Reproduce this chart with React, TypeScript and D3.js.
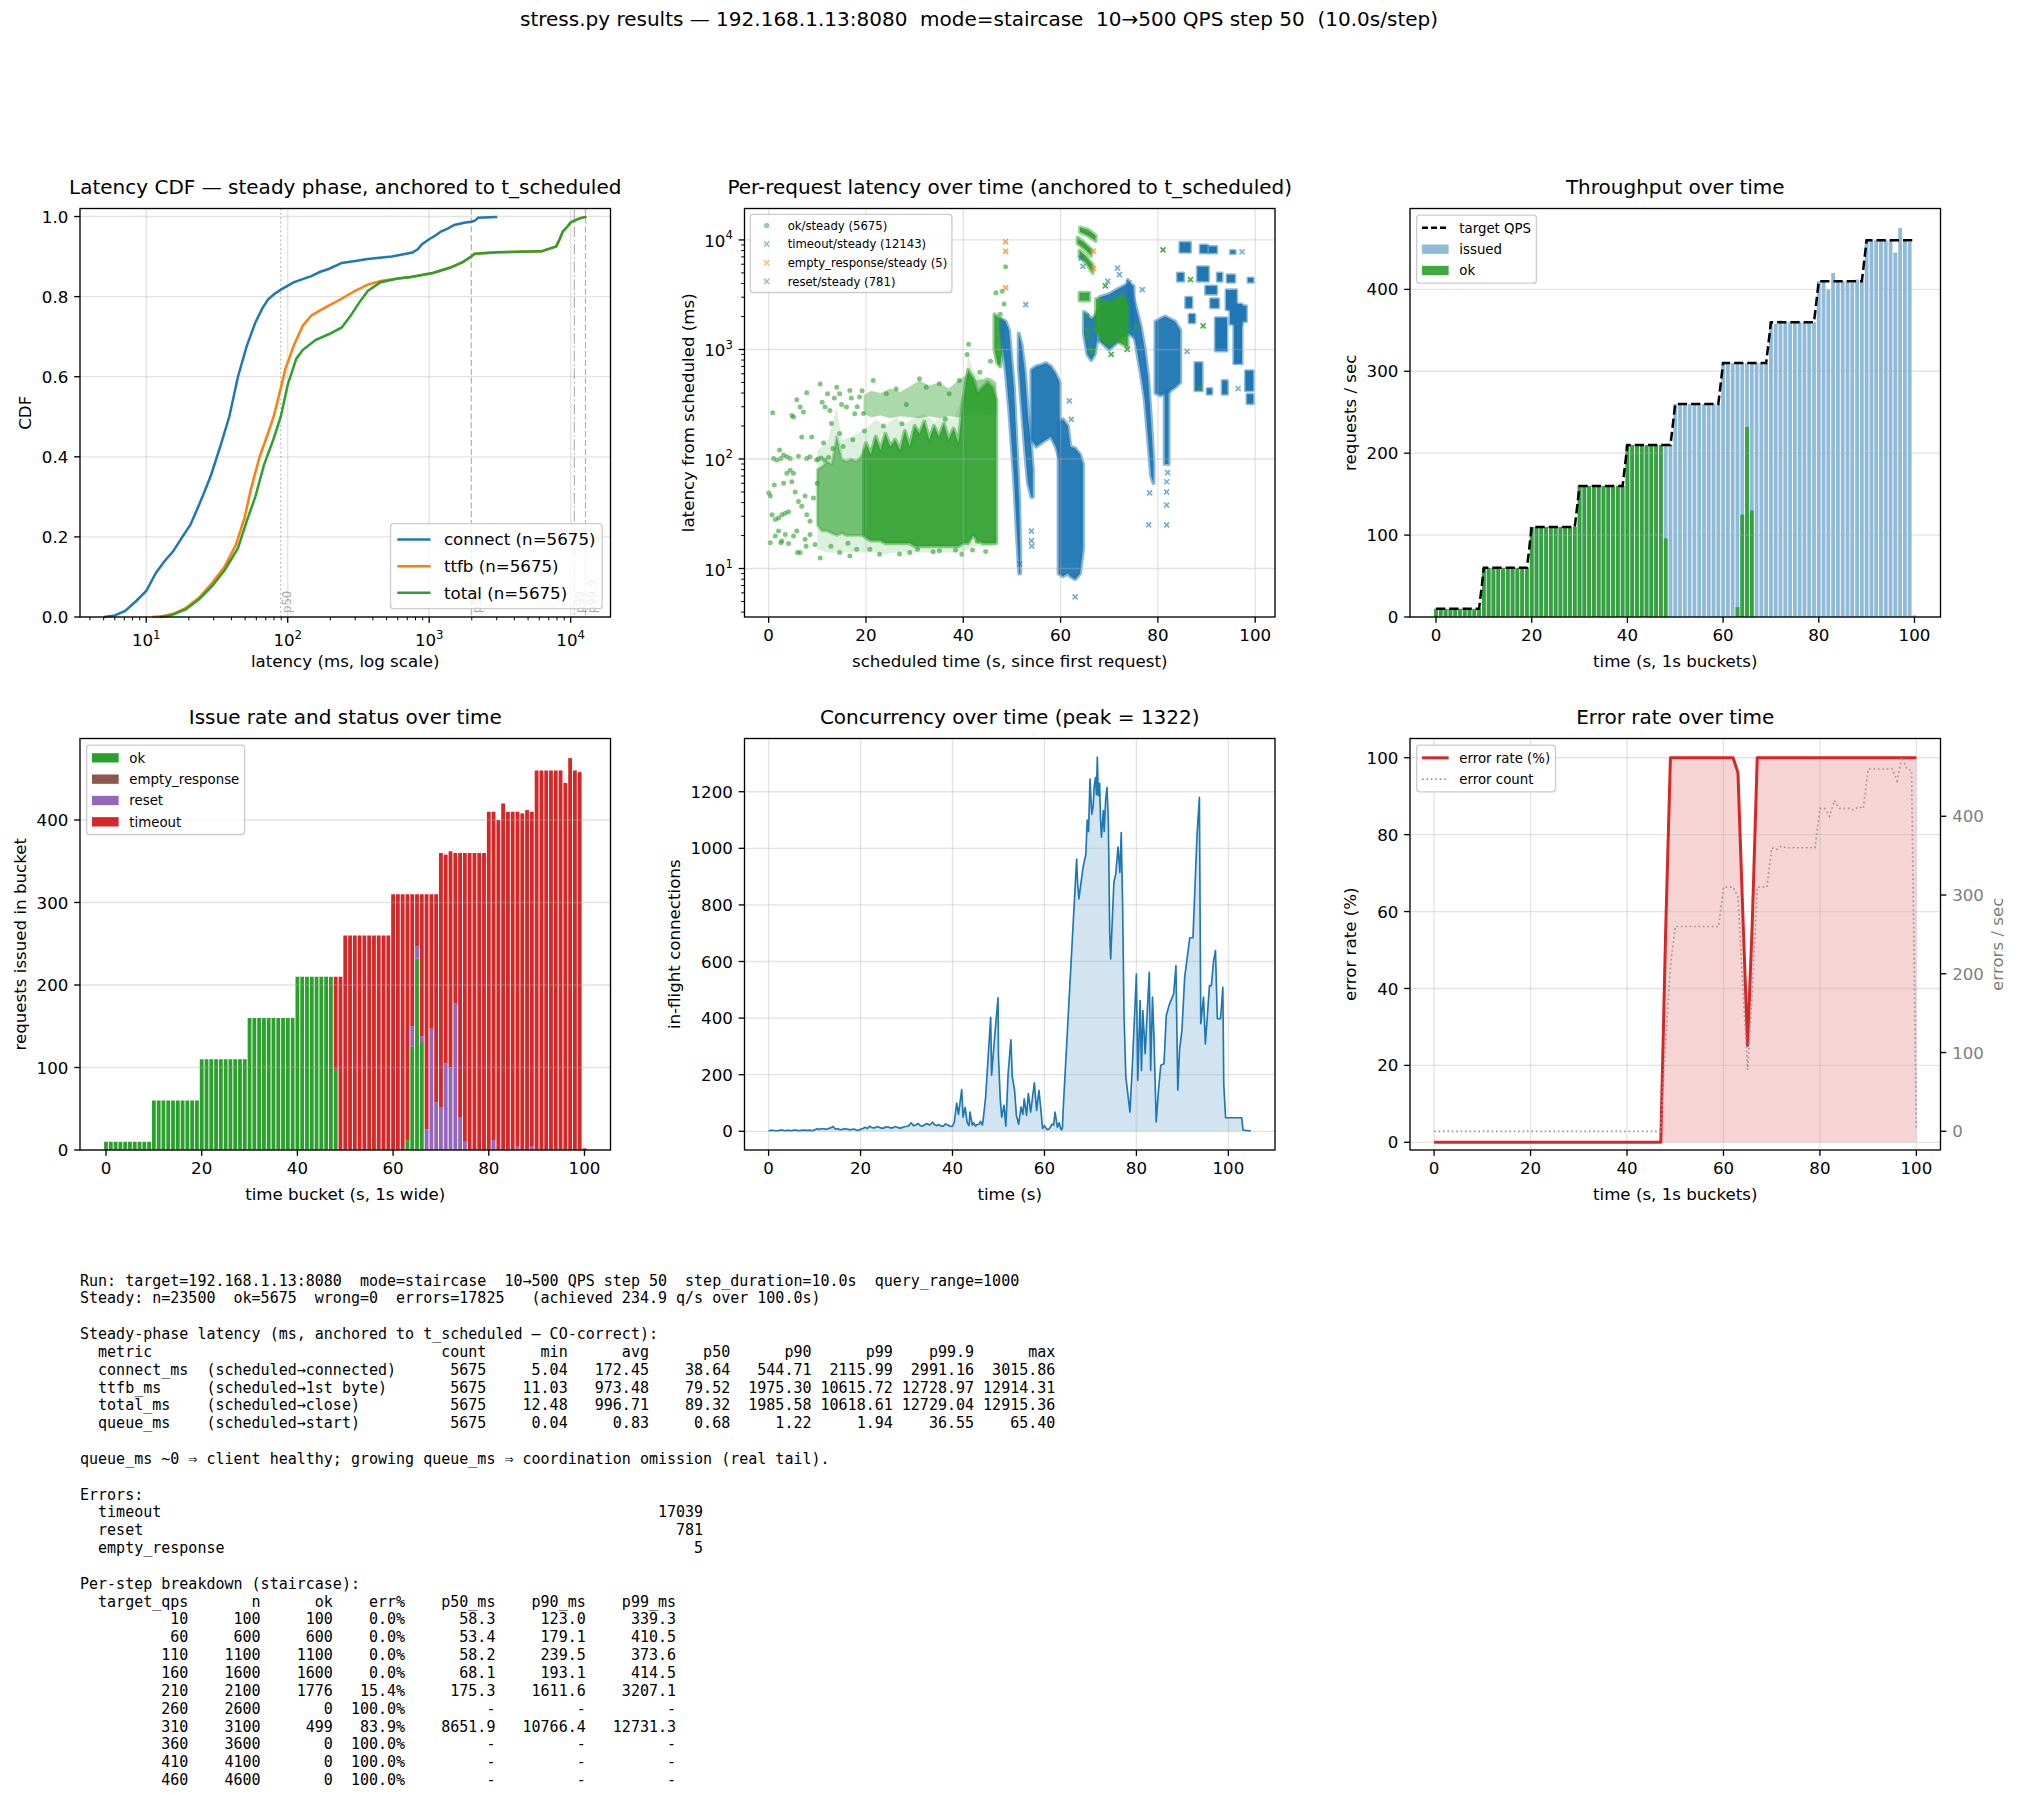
import React from 'react';
import * as d3 from 'd3';

const W = 2019;
const H = 1797;
const FONT = "'DejaVu Sans', Verdana, sans-serif";
const MONO = "'DejaVu Sans Mono', monospace";
const FS = 16.67;
const TL = 5.83;
const C0 = '#1f77b4', C1 = '#ff7f0e', C2 = '#2ca02c', C3 = '#d62728', C4 = '#9467bd', C5 = '#8c564b';

const SUPTITLE = 'stress.py results — 192.168.1.13:8080  mode=staircase  10→500 QPS step 50  (10.0s/step)';

// ---- latency CDFs (ms, cumulative fraction) ----
const cdfConnect: [number, number][] = [
  [5.04, 0], [6, 0.004], [7.1, 0.015], [8.5, 0.04], [10, 0.065], [11.7, 0.11], [13.5, 0.14], [15.5, 0.164],
  [18, 0.2], [20.5, 0.23], [23, 0.27], [25.3, 0.305], [28.7, 0.354], [33.6, 0.429], [38.64, 0.5], [44.5, 0.6],
  [51.2, 0.675], [59, 0.735], [66, 0.77], [72.8, 0.793], [80, 0.806], [90, 0.818], [111, 0.836], [147, 0.851],
  [170, 0.862], [195, 0.869], [241, 0.884], [300, 0.889], [368, 0.894], [544.71, 0.9], [646, 0.905], [760, 0.91],
  [830, 0.918], [887, 0.93], [986, 0.942], [1100, 0.952], [1219, 0.963], [1350, 0.97], [1504, 0.979], [1800, 0.985],
  [1995, 0.987], [2115.99, 0.99], [2215, 0.997], [2991, 0.999], [3015.86, 1],
];
const cdfTtfb: [number, number][] = [
  [11.03, 0], [13, 0.002], [15.5, 0.008], [19.1, 0.023], [23.6, 0.048], [29.2, 0.085], [36, 0.127], [43, 0.18],
  [49.5, 0.247], [55, 0.32], [63.3, 0.4], [72.8, 0.46], [79.52, 0.5], [87, 0.555], [96.4, 0.62], [111, 0.68],
  [128, 0.728], [147, 0.753], [182, 0.772], [225, 0.789], [298, 0.814], [368, 0.83], [454, 0.839], [600, 0.845],
  [743, 0.849], [1060, 0.859], [1398, 0.872], [1727, 0.886], [1975.3, 0.9], [2100, 0.907], [3040, 0.911],
  [6200, 0.913], [7900, 0.925], [8400, 0.945], [8800, 0.963], [9500, 0.975], [10000, 0.985], [10615.72, 0.99],
  [11700, 0.996], [12728.97, 0.999], [12914.31, 1],
];
const cdfTotal: [number, number][] = [
  [12.48, 0], [15, 0.004], [19, 0.019], [23.6, 0.044], [29.2, 0.077], [36, 0.118], [44.5, 0.172], [51.2, 0.238],
  [59, 0.3], [68, 0.38], [78.6, 0.44], [89.32, 0.5], [100, 0.58], [115, 0.645], [128, 0.667], [158, 0.692],
  [195, 0.706], [241, 0.723], [278, 0.752], [320, 0.785], [368, 0.814], [454, 0.836], [600, 0.845], [743, 0.849],
  [1060, 0.859], [1398, 0.872], [1727, 0.886], [1985.58, 0.9], [2100, 0.907], [3040, 0.911], [6200, 0.913],
  [7900, 0.925], [8400, 0.945], [8800, 0.963], [9500, 0.975], [10000, 0.985], [10618.61, 0.99], [11700, 0.996],
  [12729.04, 0.999], [12915.36, 1],
];
const pctNames = ['p50', 'p90', 'p99', 'p99.9'];
const pctTotalMs = [89.32, 1985.58, 10618.61, 12729.04];
const pctDash = ['1.67 2.75', '6.2 2.7', '10.7 2.7 1.67 2.7', '6.2 2.7'];

// ---- staircase schedule + per-second buckets ----
const stepStart = [0, 10, 20, 30, 40, 50, 60, 70, 80, 90];
const stepQps = [10, 60, 110, 160, 210, 260, 310, 360, 410, 460];

const issuedPerSec = [
  10, 10, 10, 10, 10, 10, 10, 10, 10, 10,
  60, 60, 60, 60, 60, 60, 60, 60, 60, 60,
  110, 110, 110, 110, 110, 110, 110, 110, 110, 110,
  160, 160, 160, 160, 160, 160, 160, 160, 160, 160,
  210, 210, 210, 210, 210, 210, 210, 210, 210, 210,
  260, 260, 260, 260, 260, 260, 260, 260, 260, 260,
  310, 310, 310, 310, 310, 310, 310, 310, 310, 310,
  360, 358, 362, 360, 360, 360, 360, 360, 360, 360,
  410, 410, 400, 420, 410, 410, 410, 408, 412, 410,
  460, 460, 460, 460, 460, 460, 445, 475, 460, 458,
  2,
];
const okPerSec = [
  10, 10, 10, 10, 10, 10, 10, 10, 10, 10,
  60, 60, 60, 60, 60, 60, 60, 60, 60, 60,
  110, 110, 110, 110, 110, 110, 110, 110, 110, 110,
  160, 160, 160, 160, 160, 160, 160, 160, 160, 160,
  210, 210, 210, 210, 210, 210, 210, 210, 96, 0,
  0, 0, 0, 0, 0, 0, 0, 0, 0, 0,
  0, 0, 0, 12, 125, 232, 130, 0, 0, 0,
  0, 0, 0, 0, 0, 0, 0, 0, 0, 0,
  0, 0, 0, 0, 0, 0, 0, 0, 0, 0,
  0, 0, 0, 0, 0, 0, 0, 0, 0, 0,
  0,
];
const resetPerSec = [
  0, 0, 0, 0, 0, 0, 0, 0, 0, 0,
  0, 0, 0, 0, 0, 0, 0, 0, 0, 0,
  0, 0, 0, 0, 0, 0, 0, 0, 0, 0,
  0, 0, 0, 0, 0, 0, 0, 0, 0, 0,
  0, 0, 0, 0, 0, 0, 0, 0, 0, 0,
  0, 0, 0, 0, 0, 0, 0, 0, 0, 0,
  0, 0, 0, 0, 25, 15, 6, 25, 147, 58,
  52, 105, 100, 178, 40, 10, 0, 0, 0, 0,
  0, 12, 0, 0, 0, 0, 4, 0, 0, 4,
  0, 0, 0, 0, 0, 0, 0, 0, 0, 0,
  0,
];
const emptyPerSec = [
  0, 0, 0, 0, 0, 0, 0, 0, 0, 0,
  0, 0, 0, 0, 0, 0, 0, 0, 0, 0,
  0, 0, 0, 0, 0, 0, 0, 0, 0, 0,
  0, 0, 0, 0, 0, 0, 0, 0, 0, 0,
  0, 0, 0, 0, 0, 0, 0, 0, 3, 0,
  0, 0, 0, 0, 0, 0, 0, 0, 0, 0,
  0, 0, 0, 0, 0, 0, 2, 0, 0, 0,
  0, 0, 0, 0, 0, 0, 0, 0, 0, 0,
  0, 0, 0, 0, 0, 0, 0, 0, 0, 0,
  0, 0, 0, 0, 0, 0, 0, 0, 0, 0,
  0,
];

// ---- in-flight connections [t, count] ----
const concurrency: [number, number][] = [
  [0, 2], [0.5, 3], [1, 3], [1.5, 2], [2, 2], [2.5, 4], [3, 4], [3.5, 2], [4, 3], [4.5, 3], [5, 2], [5.5, 4], [6, 4],
  [6.5, 2], [7, 3], [7.5, 4], [8, 3], [8.5, 3], [9, 4], [9.5, 2], [10, 5], [10.5, 9], [11, 7], [11.5, 9], [12, 9],
  [12.5, 7], [13, 10], [13.5, 12], [14, 17], [14.5, 8], [15, 9], [15.5, 6], [16, 7], [16.5, 9], [17, 8], [17.5, 6],
  [18, 6], [18.5, 8], [19, 5], [19.5, 3], [20, 7], [20.5, 10], [21, 14], [21.5, 10], [22, 18], [22.5, 13], [23, 12],
  [23.5, 16], [24, 15], [24.5, 11], [25, 11], [25.5, 16], [26, 15], [26.5, 12], [27, 12], [27.5, 17], [28, 14],
  [28.5, 11], [29, 13], [29.5, 16], [30, 17], [30.5, 20], [31, 30], [31.5, 20], [32, 22], [32.5, 28], [33, 20],
  [33.5, 18], [34, 24], [34.5, 27], [35, 22], [35.7, 32], [36, 25], [36.5, 20], [37, 24], [37.5, 18], [38, 18],
  [38.5, 26], [39, 22], [39.5, 17], [40, 18], [40.4, 33], [40.9, 100], [41.3, 60], [42.0, 147], [42.3, 50],
  [42.75, 85], [43.2, 30], [43.6, 20], [43.8, 68], [44.3, 22], [44.6, 30], [45.0, 18], [45.3, 24], [45.8, 25],
  [46.1, 35], [46.5, 22], [46.7, 45], [47.2, 120], [48.3, 403], [48.5, 198], [49.1, 321], [49.9, 472], [50.0, 262],
  [50.4, 110], [50.7, 50], [51.2, 92], [51.6, 18], [52.1, 204], [52.7, 323], [53.0, 192], [53.5, 145], [53.9, 56],
  [54.4, 25], [54.9, 86], [55.3, 60], [55.6, 115], [56.1, 56], [56.5, 133], [57.0, 68], [57.8, 171], [58.3, 74],
  [58.8, 145], [59.2, 80], [59.6, 10], [60.0, 20], [60.3, 12], [60.6, 6], [61.0, 8], [61.3, 15], [61.6, 25],
  [62.0, 22], [62.3, 68], [62.8, 15], [63.2, 30], [63.5, 10], [63.7, 5], [63.9, 12], [64.1, 86], [67.0, 962],
  [67.2, 880], [67.5, 821], [67.8, 860], [68.3, 921], [68.6, 950], [69.0, 978], [69.3, 1100], [69.6, 1060],
  [69.9, 1245], [70.1, 1180], [70.3, 1121], [70.6, 1150], [70.8, 1215], [71.1, 1250], [71.3, 1190], [71.5, 1322],
  [71.7, 1186], [72.0, 1230], [72.2, 1100], [72.4, 1039], [72.8, 1133], [73.0, 1060], [73.3, 1170], [73.6, 1215],
  [73.9, 1092], [74.2, 698], [74.4, 609], [75.1, 880], [75.5, 909], [76.0, 1004], [76.4, 915], [76.7, 1056],
  [77.0, 798], [77.3, 415], [77.7, 192], [78.3, 109], [78.6, 68], [79.1, 227], [80.0, 556], [80.3, 180], [80.8, 462],
  [81.1, 215], [81.4, 427], [81.9, 274], [82.8, 562], [83.1, 215], [83.5, 474], [83.8, 345], [84.3, 33], [84.8, 145],
  [85.3, 233], [86.0, 239], [86.5, 409], [87.1, 445], [88.1, 486], [88.6, 586], [89.0, 145], [89.4, 292], [89.9, 356],
  [90.5, 545], [91.3, 645], [91.6, 684], [92.3, 684], [93.2, 1051], [93.7, 1180], [94.0, 380], [94.6, 474],
  [95.0, 309], [95.9, 515], [96.3, 515], [96.8, 604], [97.2, 639], [97.6, 398], [98.3, 398], [98.8, 509], [99.0, 168],
  [99.4, 48], [102.9, 48], [103.2, 4], [104.9, 1],
];

// ---- per-request latency: sparse points [t, ms] and dense clouds [t, lo, hi] ----
const okPoints: [number, number][] = [
  [0.82, 265], [0.05, 49], [0.34, 46], [1.02, 101], [1.7, 98], [2.25, 121], [2.52, 101], [3.07, 109], [3.75, 105],
  [4.43, 101], [1.16, 58], [0.68, 31], [1.36, 28], [2.04, 29], [2.72, 31], [3.41, 32], [4.09, 33], [0.34, 17.2],
  [1.36, 19.8], [2.04, 22], [2.52, 17.2], [3.41, 20.5], [5.11, 19.8], [5.79, 22], [6.47, 14], [7.49, 18.5],
  [8.51, 20.5], [9.54, 16.6], [4.77, 250], [5.11, 242], [5.79, 347], [6.47, 298], [7.15, 268], [7.83, 402],
  [6.81, 159], [8.86, 159], [3.07, 60], [3.75, 74], [4.43, 79], [5.11, 74], [4.77, 62], [5.45, 50], [6.13, 41],
  [6.81, 37], [7.49, 46], [7.83, 31], [8.51, 27], [9.2, 44], [7.83, 101], [6.13, 106], [8.51, 105], [9.88, 98],
  [9.99, 60], [2.72, 17.8], [5.93, 14], [7.7, 16], [4.09, 16.9], [10.2, 100], [10.8, 102], [11.5, 98], [12.3, 104],
  [10.6, 485], [11.6, 298], [12.1, 394], [12.6, 277], [12.9, 211], [14.0, 453], [14.6, 394], [15.0, 314],
  [16.0, 298], [16.7, 423], [17.7, 259], [18.7, 369], [14.6, 171], [15.3, 130], [11, 330], [13.5, 360], [17, 360],
  [18.2, 300], [19.2, 420], [19.5, 260], [21.5, 520], [24.2, 394], [26.2, 436], [28.3, 314], [31.0, 540],
  [32.4, 453], [35.1, 487], [37.1, 394], [39.2, 520], [41.1, 1117], [40.8, 900], [10.6, 12.5], [14.6, 14],
  [16.7, 13], [22.8, 13.5], [29, 14], [35.1, 14.5], [39.7, 13.5], [42.9, 17.7], [46.7, 3300], [48.0, 3400],
  [48.4, 2600], [48.7, 5700], [47.6, 2100], [11.3, 140], [12.8, 16], [13.2, 125], [16.3, 17], [17.3, 150],
  [18.1, 15], [19.7, 180], [20.8, 15], [23.6, 200], [26.9, 13.6], [27.4, 210], [30.6, 15], [33.8, 14.2],
  [36.3, 230], [38.4, 14.8], [41.9, 14.8], [44.6, 14.3], [45.6, 780], [43.4, 620],
];
const okHalo: [number, number, number][] = [
  [10, 15, 120], [12, 14, 140], [14, 14, 300], [15, 14, 150], [17, 14, 160], [20, 14, 190], [22, 14, 230],
  [24, 13.5, 200], [26, 14, 240], [28, 14, 210], [30, 14, 240], [32, 14, 260], [34, 14, 220], [36, 14, 250],
  [38, 14, 230], [40, 14, 380], [41, 15, 900], [42, 16, 650], [44, 16, 520], [46, 16, 560], [46.8, 17, 480],
];
const okUpper: [number, number, number][] = [
  [19.5, 260, 380], [21, 240, 420], [23, 250, 400], [25, 235, 440], [27, 245, 410], [29, 240, 460], [31, 235, 520],
  [33, 245, 470], [35, 235, 500], [37, 245, 440], [39, 240, 520], [41, 250, 600], [43, 260, 520], [45, 250, 560],
  [46.8, 270, 500],
];
const okCoreEarly: [number, number, number][] = [
  [10, 25, 80], [11, 22, 85], [12, 22, 95], [13, 21, 90], [14, 20, 160], [15, 21, 100], [16, 20, 95], [17, 20, 100],
  [18, 20, 95], [19, 20, 105], [19.6, 20, 120],
];
const okCore: [number, number, number][] = [
  [19.6, 20, 120], [20, 19, 140], [21, 18, 110], [22, 18, 160], [23, 18, 120], [24, 17, 170],
  [25, 17, 130], [26, 17, 150], [27, 17, 120], [28, 17, 180], [29, 17, 130], [30, 16, 200], [31, 16, 170],
  [32, 16, 220], [33, 16, 150], [34, 16, 200], [35, 16, 160], [36, 16, 210], [37, 16, 150], [38, 16, 190],
  [39, 16, 140], [40, 17, 350], [41, 17, 650], [42, 20, 550], [43, 18, 400], [44, 17, 450], [45, 17, 500],
  [46, 17, 450], [46.8, 17, 350],
];
const okClusters: [number, number, number][][] = [
  [[46.4, 1000, 2100], [47.0, 750, 2000], [47.6, 700, 1900], [48.1, 1100, 1800]],
  [[64.0, 11800, 13000], [65.6, 11000, 12400], [67.2, 9800, 11000]],
  [[63.5, 9300, 10500], [64.9, 8300, 9400], [66.3, 7200, 8200]],
  [[63.9, 7000, 8000], [65.2, 6200, 7100], [66.6, 5000, 5900]],
  [[63.9, 2800, 3300], [65.9, 2800, 3300]],
];
const timeoutClusters: [number, number, number][][] = [
  [[47.7, 1500, 1900], [48.7, 650, 1800], [49.4, 300, 1500], [50.4, 70, 450], [51.1, 18, 100], [51.5, 9, 40], [51.7, 9, 15]],
  [[51.4, 700, 1400], [52.0, 300, 1100], [52.7, 120, 600], [53.3, 60, 250], [54.0, 45, 120], [54.3, 45, 80]],
  [[54.0, 150, 650], [55.0, 130, 700], [56.0, 140, 720], [57.0, 150, 750], [58.0, 160, 700], [59.0, 130, 600], [59.8, 100, 500]],
  [[59.6, 9, 220], [60.5, 8.5, 230], [61.5, 9, 200], [62.0, 8.5, 130], [63.0, 8, 125], [64.0, 9, 110], [64.6, 15, 90]],
  [[64.8, 1400, 2200], [65.5, 900, 2100], [66.3, 800, 1900], [67.0, 900, 2000], [67.5, 1200, 2200]],
  [[68, 1200, 3000], [70, 1000, 3200], [72, 1200, 3600], [74, 1400, 4000], [75, 1300, 3800]],
  [[73.8, 3000, 4300], [74.5, 1900, 3500], [75.5, 1100, 2400], [76.5, 600, 1600], [77.3, 350, 1000], [78.0, 150, 550], [78.6, 70, 220], [79.1, 60, 90]],
  [[79.5, 400, 1800], [80.5, 380, 1900], [81.5, 400, 2000], [82.5, 420, 1900], [83.5, 450, 1800], [84.6, 500, 1500]],
  [[81.4, 90, 420], [82.2, 90, 420]],
];
// [t0, t1, lo, hi]
const timeoutBlocks: [number, number, number, number][] = [
  [84.5, 86.7, 7700, 9500], [88.7, 90.2, 7600, 9000], [90.5, 92.1, 7600, 8700], [94.9, 95.9, 7500, 8000],
  [84.0, 85.3, 4200, 5000], [88.1, 90.4, 4200, 5700], [92.2, 93.2, 4200, 5000], [94.2, 95.8, 4100, 4800],
  [98.5, 99.6, 4100, 4500], [89.8, 92.1, 3200, 3800], [85.7, 87.0, 2400, 3000], [90.8, 92.5, 2400, 2900],
  [94.0, 96.2, 2300, 3500], [94.8, 97.3, 1700, 2600], [96.5, 98.2, 1800, 2500], [86.4, 87.6, 1750, 2100],
  [91.8, 94.2, 970, 1950], [95.6, 97.3, 740, 1700], [87.6, 89.1, 420, 760], [98.0, 99.6, 420, 640],
  [98.3, 99.6, 320, 390], [90.1, 91.1, 390, 440], [93.2, 94.3, 390, 520],
];
const timeoutPoints: [number, number][] = [
  [52.85, 2570], [54.0, 22], [54.0, 18], [54.1, 16], [51.6, 11], [61.8, 340], [62.2, 230], [63.0, 5.5],
  [64.2, 6820], [64.6, 5730], [71.7, 5530], [72.1, 4820], [69.7, 4200], [76.8, 3520], [74.1, 4050], [78.3, 49],
  [78.1, 25], [81.8, 25], [81.8, 38], [81.8, 50], [81.8, 62], [82.0, 75], [86.0, 960], [97.3, 7800], [96.5, 440],
];
const resetClusters: [number, number, number][][] = [
  [[67.3, 1500, 2900], [68.5, 1200, 2800], [70, 1100, 2700], [71.5, 1200, 2900], [73, 1100, 3100], [73.8, 1050, 2500]],
];
const resetPoints: [number, number][] = [
  [65.3, 2000], [65.4, 1500], [65.5, 1300], [66.2, 1000], [66.6, 950], [67.6, 1500], [69.2, 3800], [75.6, 1640],
  [73.7, 1000], [81.05, 8100], [86.7, 4350], [89.3, 1640], [88.6, 444], [70.4, 900],
];
const emptyPoints: [number, number][] = [[48.7, 9650], [48.7, 7850], [48.7, 3650], [66.7, 7900], [66.8, 5500]];

// ---- report text ----
const runLine = 'Run: target=192.168.1.13:8080  mode=staircase  10→500 QPS step 50  step_duration=10.0s  query_range=1000';
const steadyLine = 'Steady: n=23500  ok=5675  wrong=0  errors=17825   (achieved 234.9 q/s over 100.0s)';
const metricNames = ['connect_ms', 'ttfb_ms', 'total_ms', 'queue_ms'];
const metricDesc = ['(scheduled→connected)', '(scheduled→1st byte)', '(scheduled→close)', '(scheduled→start)'];
const metricCount = [5675, 5675, 5675, 5675];
const metricCols = ['min', 'avg', 'p50', 'p90', 'p99', 'p99.9', 'max'];
const metricStats = [
  [5.04, 172.45, 38.64, 544.71, 2115.99, 2991.16, 3015.86],
  [11.03, 973.48, 79.52, 1975.3, 10615.72, 12728.97, 12914.31],
  [12.48, 996.71, 89.32, 1985.58, 10618.61, 12729.04, 12915.36],
  [0.04, 0.83, 0.68, 1.22, 1.94, 36.55, 65.4],
];
const errorKinds = ['timeout', 'reset', 'empty_response'];
const errorTotals = [17039, 781, 5];
const stepN = [100, 600, 1100, 1600, 2100, 2600, 3100, 3600, 4100, 4600];
const stepOk = [100, 600, 1100, 1600, 1776, 0, 499, 0, 0, 0];
const stepErrPct = [0, 0, 0, 0, 15.4, 100, 83.9, 100, 100, 100];
const stepP50 = [58.3, 53.4, 58.2, 68.1, 175.3, null, 8651.9, null, null, null];
const stepP90 = [123.0, 179.1, 239.5, 193.1, 1611.6, null, 10766.4, null, null, null];
const stepP99 = [339.3, 410.5, 373.6, 414.5, 3207.1, null, 12731.3, null, null, null];

// ---------------------------------------------------------------------------

type Panel = { x: number; y: number; w: number; h: number };
const COLS = [80, 744.5, 1410];
const ROWS = [208.5, 738.5];
const PW = 530.5;
const PH = [408.5, 411.5];
const panel = (c: number, r: number): Panel => ({ x: COLS[c], y: ROWS[r], w: PW, h: PH[r] });

let measureCtx: CanvasRenderingContext2D | null = null;
function textWidth(s: string, size: number, family = FONT) {
  if (!measureCtx) measureCtx = document.createElement('canvas').getContext('2d');
  if (!measureCtx) return s.length * size * 0.6;
  measureCtx.font = `${size}px ${family}`;
  return measureCtx.measureText(s).width;
}

function logMinors(lo: number, hi: number) {
  const out: number[] = [];
  for (let e = Math.floor(Math.log10(lo)); e <= Math.ceil(Math.log10(hi)); e++) {
    for (let k = 2; k <= 9; k++) {
      const v = k * 10 ** e;
      if (v >= lo && v <= hi) out.push(v);
    }
  }
  return out;
}

const Title = ({ p, text }: { p: Panel; text: string }) => (
  <text x={p.x + p.w / 2} y={p.y - 14.7} fontSize={20} textAnchor="middle">{text}</text>
);

const Frame = ({ p }: { p: Panel }) => (
  <rect x={p.x} y={p.y} width={p.w} height={p.h} fill="none" stroke="#000" strokeWidth={1.33} />
);

function Grid({ p, xs, xt, ys, yt }: { p: Panel; xs?: any; xt?: number[]; ys?: any; yt?: number[] }) {
  return (
    <g stroke="#b0b0b0" strokeOpacity={0.35} strokeWidth={1.33}>
      {xt && xs && xt.map(v => <line key={'gx' + v} x1={xs(v)} x2={xs(v)} y1={p.y} y2={p.y + p.h} />)}
      {yt && ys && yt.map(v => <line key={'gy' + v} x1={p.x} x2={p.x + p.w} y1={ys(v)} y2={ys(v)} />)}
    </g>
  );
}

function Pow10({ x, y, e, anchor, fill = '#000' }: { x: number; y: number; e: number; anchor: string; fill?: string }) {
  return (
    <text x={x} y={y} textAnchor={anchor} fontSize={FS} fill={fill}>
      10<tspan dy={-7.5} fontSize={11.67}>{e}</tspan>
    </text>
  );
}

function XAxis({ p, xs, ticks, label, log, minor }: { p: Panel; xs: any; ticks: number[]; label: string; log?: boolean; minor?: number[] }) {
  const yb = p.y + p.h;
  return (
    <g>
      {minor && minor.map(v => (
        <line key={'mx' + v} x1={xs(v)} x2={xs(v)} y1={yb} y2={yb + 3.33} stroke="#000" strokeWidth={1} />
      ))}
      {ticks.map(v => (
        <g key={'x' + v}>
          <line x1={xs(v)} x2={xs(v)} y1={yb} y2={yb + TL} stroke="#000" strokeWidth={1.33} />
          {log
            ? <Pow10 x={xs(v)} y={yb + 29} e={Math.round(Math.log10(v))} anchor="middle" />
            : <text x={xs(v)} y={yb + 24.3} textAnchor="middle" fontSize={FS}>{v}</text>}
        </g>
      ))}
      <text x={p.x + p.w / 2} y={yb + 50} textAnchor="middle" fontSize={FS}>{label}</text>
    </g>
  );
}

function YAxis({ p, ys, ticks, label, fmt, log, minor, right, color = '#000' }: {
  p: Panel; ys: any; ticks: number[]; label: string; fmt?: (v: number) => string; log?: boolean;
  minor?: number[]; right?: boolean; color?: string;
}) {
  const x0 = right ? p.x + p.w : p.x;
  const dir = right ? 1 : -1;
  const labels = ticks.map(v => (fmt ? fmt(v) : String(v)));
  const tw = log ? textWidth('10', FS) + textWidth('4', 11.67) : Math.max(...labels.map(s => textWidth(s, FS)));
  const lx = right ? x0 + 11.67 + tw + 6.67 + 12.7 : x0 - 11.67 - tw - 6.67 - 4;
  return (
    <g>
      {minor && minor.map(v => (
        <line key={'my' + v} x1={x0} x2={x0 + dir * 3.33} y1={ys(v)} y2={ys(v)} stroke="#000" strokeWidth={1} />
      ))}
      {ticks.map((v, i) => (
        <g key={'y' + v}>
          <line x1={x0} x2={x0 + dir * TL} y1={ys(v)} y2={ys(v)} stroke="#000" strokeWidth={1.33} />
          {log
            ? <Pow10 x={x0 + dir * 11.67} y={ys(v) + 7} e={Math.round(Math.log10(v))} anchor={right ? 'start' : 'end'} />
            : <text x={x0 + dir * 11.67} y={ys(v) + 6.1} textAnchor={right ? 'start' : 'end'} fontSize={FS} fill={color}>{labels[i]}</text>}
        </g>
      ))}
      <text transform={`translate(${lx},${p.y + p.h / 2}) rotate(-90)`} textAnchor="middle" fontSize={FS} fill={color}>{label}</text>
    </g>
  );
}

type LegendItem = { label: string; kind: 'line' | 'patch' | 'dot' | 'cross'; color: string; opacity?: number; width?: number; dash?: string };

function Legend({ p, fs, items, corner }: { p: Panel; fs: number; items: LegendItem[]; corner: 'ul' | 'lr' }) {
  const tw = Math.max(...items.map(it => textWidth(it.label, fs)));
  const bw = 3.6 * fs + tw;
  const bh = 0.3 * fs + items.length * 1.6 * fs;
  const bx = corner === 'ul' ? p.x + 0.5 * fs : p.x + p.w - 0.5 * fs - bw;
  const by = corner === 'ul' ? p.y + 0.5 * fs : p.y + p.h - 0.5 * fs - bh;
  return (
    <g>
      <rect x={bx} y={by} width={bw} height={bh} rx={3} fill="#fff" fillOpacity={0.8} stroke="#cccccc" strokeWidth={1.33} />
      {items.map((it, i) => {
        const cy = by + 0.95 * fs + i * 1.6 * fs;
        const hx = bx + 0.4 * fs;
        let handle: React.ReactNode = null;
        if (it.kind === 'line') {
          handle = <line x1={hx} x2={hx + 2 * fs} y1={cy} y2={cy} stroke={it.color} strokeWidth={it.width ?? 2.5}
            strokeDasharray={it.dash} strokeOpacity={it.opacity ?? 1} />;
        } else if (it.kind === 'patch') {
          handle = <rect x={hx} y={cy - 0.35 * fs} width={2 * fs} height={0.7 * fs} fill={it.color} fillOpacity={it.opacity ?? 1} />;
        } else if (it.kind === 'dot') {
          handle = <circle cx={hx + fs} cy={cy} r={2.6} fill={it.color} fillOpacity={it.opacity ?? 1} />;
        } else {
          const cx = hx + fs, r = 2.6;
          handle = <path d={`M${cx - r},${cy - r}L${cx + r},${cy + r}M${cx - r},${cy + r}L${cx + r},${cy - r}`}
            stroke={it.color} strokeWidth={1.6} strokeOpacity={it.opacity ?? 1} />;
        }
        return (
          <g key={it.label}>
            {handle}
            <text x={bx + 3.2 * fs} y={cy + 0.36 * fs} fontSize={fs}>{it.label}</text>
          </g>
        );
      })}
    </g>
  );
}

const ClipRect = ({ id, p }: { id: string; p: Panel }) => (
  <clipPath id={id}><rect x={p.x} y={p.y} width={p.w} height={p.h} /></clipPath>
);

// ---------------------------------------------------------------------------

function CdfPanel() {
  const p = panel(0, 0);
  const xs = d3.scaleLog().domain([3.404, 19120]).range([p.x, p.x + p.w]);
  const ys = d3.scaleLinear().domain([0, 1.02]).range([p.y + p.h, p.y]);
  const line = d3.line<[number, number]>().x(d => xs(d[0])).y(d => ys(d[1]));
  const xt = [10, 100, 1000, 10000];
  const yt = [0, 0.2, 0.4, 0.6, 0.8, 1.0];
  return (
    <g>
      <Grid p={p} xs={xs} xt={xt} ys={ys} yt={yt} />
      {pctTotalMs.map((v, i) => (
        <g key={pctNames[i]}>
          <line x1={xs(v)} x2={xs(v)} y1={p.y} y2={p.y + p.h} stroke="#808080" strokeOpacity={0.6}
            strokeWidth={1.2} strokeDasharray={pctDash[i]} />
          <text transform={`translate(${xs(v) + 10},${p.y + p.h - 4}) rotate(-90)`} fontSize={11.67}
            fill="#808080" fillOpacity={0.7}>{pctNames[i]}</text>
        </g>
      ))}
      <path d={line(cdfConnect) ?? ''} fill="none" stroke={C0} strokeWidth={2.5} />
      <path d={line(cdfTtfb) ?? ''} fill="none" stroke={C1} strokeWidth={2.5} />
      <path d={line(cdfTotal) ?? ''} fill="none" stroke={C2} strokeWidth={2.5} />
      <Legend p={p} fs={16.67} corner="lr" items={[
        { label: 'connect (n=5675)', kind: 'line', color: C0 },
        { label: 'ttfb (n=5675)', kind: 'line', color: C1 },
        { label: 'total (n=5675)', kind: 'line', color: C2 },
      ]} />
      <Frame p={p} />
      <XAxis p={p} xs={xs} ticks={xt} log minor={logMinors(3.404, 19120)} label="latency (ms, log scale)" />
      <YAxis p={p} ys={ys} ticks={yt} fmt={v => v.toFixed(1)} label="CDF" />
      <Title p={p} text="Latency CDF — steady phase, anchored to t_scheduled" />
    </g>
  );
}

function ScatterPanel() {
  const p = panel(1, 0);
  const xs = d3.scaleLinear().domain([-4.96, 104.07]).range([p.x, p.x + p.w]);
  const ys = d3.scaleLog().domain([3.61, 19360]).range([p.y + p.h, p.y]);
  const area = d3.area<[number, number, number]>().x(d => xs(d[0])).y0(d => ys(d[1])).y1(d => ys(d[2]));
  const cloud = (data: [number, number, number][], color: string, op: number, key: string, edge = 4) => (
    <path key={key} d={area(data) ?? ''} fill={color} fillOpacity={op} stroke={edge ? color : 'none'}
      strokeOpacity={op * 0.55} strokeWidth={edge} strokeLinejoin="round" />
  );
  const cross = (t: number, ms: number, color: string, key: string, op = 0.6) => {
    const x = xs(t), y = ys(ms), r = 2.5;
    return <path key={key} d={`M${x - r},${y - r}L${x + r},${y + r}M${x - r},${y + r}L${x + r},${y - r}`}
      stroke={color} strokeWidth={1.7} strokeOpacity={op} />;
  };
  const xt = [0, 20, 40, 60, 80, 100];
  const yt = [10, 100, 1000, 10000];
  return (
    <g>
      <ClipRect id="clip-scatter" p={p} />
      <g clipPath="url(#clip-scatter)">
        {cloud(okHalo, C2, 0.16, 'okh', 0)}
        {cloud(okUpper, C2, 0.4, 'oku', 0)}
        {cloud(okCoreEarly, C2, 0.6, 'oke', 3)}
        {cloud(okCore, C2, 0.9, 'okc', 4)}
        {okPoints.map(([t, ms], i) => <circle key={'ok' + i} cx={xs(t)} cy={ys(ms)} r={2.5} fill={C2} fillOpacity={0.6} />)}
        {okClusters.map((c, i) => cloud(c, C2, 0.9, 'okx' + i))}
        {timeoutClusters.map((c, i) => cloud(c, C0, 0.95, 'to' + i))}
        {timeoutBlocks.map(([t0, t1, lo, hi], i) => (
          <rect key={'tb' + i} x={xs(t0)} y={ys(hi)} width={xs(t1) - xs(t0)} height={ys(lo) - ys(hi)} fill={C0}
            stroke={C0} strokeOpacity={0.5} strokeWidth={3} strokeLinejoin="round" />
        ))}
        {timeoutPoints.map(([t, ms], i) => cross(t, ms, C0, 'tp' + i))}
        {emptyPoints.map(([t, ms], i) => cross(t, ms, C1, 'ep' + i, 0.7))}
        {resetClusters.map((c, i) => cloud(c, C2, 0.9, 'rc' + i))}
        {resetPoints.map(([t, ms], i) => cross(t, ms, C2, 'rp' + i, 0.85))}
      </g>
      <Grid p={p} xs={xs} xt={xt} ys={ys} yt={yt} />
      <Legend p={p} fs={11.67} corner="ul" items={[
        { label: 'ok/steady (5675)', kind: 'dot', color: C2, opacity: 0.5 },
        { label: 'timeout/steady (12143)', kind: 'cross', color: C0, opacity: 0.5 },
        { label: 'empty_response/steady (5)', kind: 'cross', color: C1, opacity: 0.5 },
        { label: 'reset/steady (781)', kind: 'cross', color: C2, opacity: 0.5 },
      ]} />
      <Frame p={p} />
      <XAxis p={p} xs={xs} ticks={xt} label="scheduled time (s, since first request)" />
      <YAxis p={p} ys={ys} ticks={yt} log minor={logMinors(3.61, 19360)} label="latency from scheduled (ms)" />
      <Title p={p} text="Per-request latency over time (anchored to t_scheduled)" />
    </g>
  );
}

function ThroughputPanel() {
  const p = panel(2, 0);
  const xs = d3.scaleLinear().domain([-5.44, 105.44]).range([p.x, p.x + p.w]);
  const ys = d3.scaleLinear().domain([0, 498.75]).range([p.y + p.h, p.y]);
  const bw = xs(0.8) - xs(0);
  const target: [number, number][] = [];
  stepStart.forEach((s, i) => { target.push([s, stepQps[i]], [s + 9, stepQps[i]]); });
  target.push([100, stepQps[stepQps.length - 1]]);
  const line = d3.line<[number, number]>().x(d => xs(d[0])).y(d => ys(d[1]));
  const yt = [0, 100, 200, 300, 400];
  return (
    <g>
      {issuedPerSec.map((v, i) => (
        <rect key={'is' + i} x={xs(i - 0.4)} y={ys(v)} width={bw} height={ys(0) - ys(v)} fill={C0} fillOpacity={0.5} />
      ))}
      {okPerSec.map((v, i) => v > 0 && (
        <rect key={'ok' + i} x={xs(i - 0.4)} y={ys(v)} width={bw} height={ys(0) - ys(v)} fill={C2} fillOpacity={0.9} />
      ))}
      <Grid p={p} ys={ys} yt={yt} />
      <path d={line(target) ?? ''} fill="none" stroke="#000" strokeWidth={2.5} strokeDasharray="9.25 4" />
      <Legend p={p} fs={13.33} corner="ul" items={[
        { label: 'target QPS', kind: 'line', color: '#000', dash: '6 3' },
        { label: 'issued', kind: 'patch', color: C0, opacity: 0.5 },
        { label: 'ok', kind: 'patch', color: C2, opacity: 0.9 },
      ]} />
      <Frame p={p} />
      <XAxis p={p} xs={xs} ticks={[0, 20, 40, 60, 80, 100]} label="time (s, 1s buckets)" />
      <YAxis p={p} ys={ys} ticks={yt} label="requests / sec" />
      <Title p={p} text="Throughput over time" />
    </g>
  );
}

function IssuePanel() {
  const p = panel(0, 1);
  const xs = d3.scaleLinear().domain([-5.44, 105.44]).range([p.x, p.x + p.w]);
  const ys = d3.scaleLinear().domain([0, 498.75]).range([p.y + p.h, p.y]);
  const bw = xs(0.8) - xs(0);
  const rows = issuedPerSec.map((n, i) => ({
    t: i,
    ok: okPerSec[i],
    empty_response: emptyPerSec[i],
    reset: resetPerSec[i],
    timeout: n - okPerSec[i] - emptyPerSec[i] - resetPerSec[i],
  }));
  const keys = ['ok', 'empty_response', 'reset', 'timeout'];
  const colors = [C2, C5, C4, C3];
  const stack = d3.stack<any>().keys(keys)(rows);
  const yt = [0, 100, 200, 300, 400];
  return (
    <g>
      {stack.map((layer, k) => layer.map((seg, i) => seg[1] > seg[0] && (
        <rect key={keys[k] + i} x={xs(i - 0.4)} y={ys(seg[1])} width={bw} height={ys(seg[0]) - ys(seg[1])} fill={colors[k]} />
      )))}
      <Grid p={p} ys={ys} yt={yt} />
      <Legend p={p} fs={13.33} corner="ul" items={keys.map((k, i) => ({ label: k, kind: 'patch' as const, color: colors[i] }))} />
      <Frame p={p} />
      <XAxis p={p} xs={xs} ticks={[0, 20, 40, 60, 80, 100]} label="time bucket (s, 1s wide)" />
      <YAxis p={p} ys={ys} ticks={yt} label="requests issued in bucket" />
      <Title p={p} text="Issue rate and status over time" />
    </g>
  );
}

function ConcurrencyPanel() {
  const p = panel(1, 1);
  const series = d3.sort(concurrency, d => d[0]);
  const peak = d3.max(series, d => d[1]) ?? 0;
  const xs = d3.scaleLinear().domain([-5.245, 110.145]).range([p.x, p.x + p.w]);
  const ys = d3.scaleLinear().domain([-peak * 0.05, peak * 1.05]).range([p.y + p.h, p.y]);
  const area = d3.area<[number, number]>().x(d => xs(d[0])).y0(ys(0)).y1(d => ys(d[1]));
  const line = d3.line<[number, number]>().x(d => xs(d[0])).y(d => ys(d[1]));
  const xt = [0, 20, 40, 60, 80, 100];
  const yt = [0, 200, 400, 600, 800, 1000, 1200];
  return (
    <g>
      <path d={area(series) ?? ''} fill={C0} fillOpacity={0.2} />
      <Grid p={p} xs={xs} xt={xt} ys={ys} yt={yt} />
      <path d={line(series) ?? ''} fill="none" stroke={C0} strokeWidth={1.67} strokeLinejoin="round" />
      <Frame p={p} />
      <XAxis p={p} xs={xs} ticks={xt} label="time (s)" />
      <YAxis p={p} ys={ys} ticks={yt} label="in-flight connections" />
      <Title p={p} text={`Concurrency over time (peak = ${peak})`} />
    </g>
  );
}

function ErrorPanel() {
  const p = panel(2, 1);
  const ts = issuedPerSec.map((_, i) => i);
  const errCount = issuedPerSec.map((n, i) => n - okPerSec[i]);
  const errRate = issuedPerSec.map((n, i) => (n ? (100 * (n - okPerSec[i])) / n : 0));
  const maxErr = d3.max(errCount) ?? 0;
  const xs = d3.scaleLinear().domain([-5, 105]).range([p.x, p.x + p.w]);
  const yl = d3.scaleLinear().domain([-2, 105]).range([p.y + p.h, p.y]);
  const yr = d3.scaleLinear().domain([-maxErr * 0.05, maxErr * 1.05]).range([p.y + p.h, p.y]);
  const fill = d3.area<number>().x(i => xs(i)).y0(yl(0)).y1(i => yl(errRate[i]));
  const rateLine = d3.line<number>().x(i => xs(i)).y(i => yl(errRate[i]));
  const countLine = d3.line<number>().x(i => xs(i)).y(i => yr(errCount[i]));
  const xt = [0, 20, 40, 60, 80, 100];
  const yt = [0, 20, 40, 60, 80, 100];
  return (
    <g>
      <path d={fill(ts) ?? ''} fill={C3} fillOpacity={0.2} />
      <Grid p={p} xs={xs} xt={xt} ys={yl} yt={yt} />
      <path d={rateLine(ts) ?? ''} fill="none" stroke={C3} strokeWidth={3} strokeLinejoin="round" />
      <Legend p={p} fs={13.33} corner="ul" items={[
        { label: 'error rate (%)', kind: 'line', color: C3, width: 3 },
        { label: 'error count', kind: 'line', color: '#999999', width: 1.67, dash: '1.67 2.75' },
      ]} />
      <path d={countLine(ts) ?? ''} fill="none" stroke="#999999" strokeWidth={1.67} strokeDasharray="1.67 2.75" />
      <Frame p={p} />
      <XAxis p={p} xs={xs} ticks={xt} label="time (s, 1s buckets)" />
      <YAxis p={p} ys={yl} ticks={yt} label="error rate (%)" />
      <YAxis p={p} ys={yr} ticks={[0, 100, 200, 300, 400]} right color="#808080" label="errors / sec" />
      <Title p={p} text="Error rate over time" />
    </g>
  );
}

function Report() {
  const f2 = (v: number) => v.toFixed(2);
  const dash = (v: number | null) => (v === null ? '-' : v.toFixed(1));
  const lines: string[] = [
    runLine,
    steadyLine,
    '',
    'Steady-phase latency (ms, anchored to t_scheduled — CO-correct):',
    '  ' + 'metric'.padEnd(36) + 'count'.padStart(7) + metricCols.map(c => c.padStart(9)).join(''),
    ...metricNames.map((n, i) => '  ' + n.padEnd(12) + metricDesc[i].padEnd(24) + String(metricCount[i]).padStart(7)
      + metricStats[i].map(v => f2(v).padStart(9)).join('')),
    '',
    'queue_ms ~0 ⇒ client healthy; growing queue_ms ⇒ coordination omission (real tail).',
    '',
    'Errors:',
    ...errorKinds.map((k, i) => '  ' + k.padEnd(20) + String(errorTotals[i]).padStart(47)),
    '',
    'Per-step breakdown (staircase):',
    'target_qps'.padStart(12) + 'n'.padStart(8) + 'ok'.padStart(8) + 'err%'.padStart(8)
      + 'p50_ms'.padStart(10) + 'p90_ms'.padStart(10) + 'p99_ms'.padStart(10),
    ...stepQps.map((q, i) => String(q).padStart(12) + String(stepN[i]).padStart(8) + String(stepOk[i]).padStart(8)
      + (stepErrPct[i].toFixed(1) + '%').padStart(8) + dash(stepP50[i]).padStart(10)
      + dash(stepP90[i]).padStart(10) + dash(stepP99[i]).padStart(10)),
  ];
  return (
    <g fontFamily={MONO} fontSize={15}>
      {lines.map((s, i) => (
        <text key={i} x={80} y={1285.5 + i * 17.84} style={{ whiteSpace: 'pre' }}>{s}</text>
      ))}
    </g>
  );
}

export default function App() {
  return (
    <div style={{ position: 'absolute', left: 0, top: 0 }}>
      <svg width={W} height={H} fontFamily={FONT} style={{ display: 'block', background: '#fff' }}>
        <rect width={W} height={H} fill="#fff" />
        <text x={979} y={26} fontSize={20} textAnchor="middle" style={{ whiteSpace: 'pre' }}>{SUPTITLE}</text>
        <CdfPanel />
        <ScatterPanel />
        <ThroughputPanel />
        <IssuePanel />
        <ConcurrencyPanel />
        <ErrorPanel />
        <Report />
      </svg>
    </div>
  );
}
